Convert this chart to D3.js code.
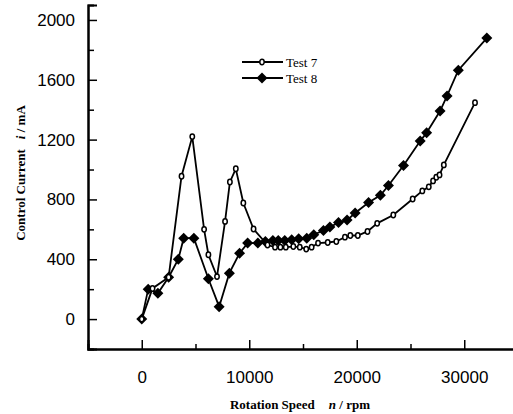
<!DOCTYPE html>
<html>
<head>
<meta charset="utf-8">
<script src="https://cdn.jsdelivr.net/npm/d3@7"></script>
<style>
  body { margin: 0; background: #fff; }
  svg { display: block; }
</style>
</head>
<body>
<div id="chart"></div>
<script>
// Test 7 (open circles)
const speeds7 = [0, 1000, 2500, 3700, 4700, 5800, 6200, 7000, 7750, 8200, 8750, 9450, 10400, 11700,
    12400, 12900, 13400, 14100, 14700, 15300, 15800, 16400, 17300, 18100, 18900, 19400, 20100,
    21000, 21900, 23400, 25200, 26100, 26700, 27100, 27400, 27700, 28100, 31000];
const currents7 = [0, 205, 280, 955, 1220, 600, 430, 284, 653, 917, 1005, 776, 602, 495,
    481, 481, 481, 485, 481, 468, 481, 508, 512, 519, 548, 559, 559,
    586, 640, 696, 803, 857, 884, 924, 948, 964, 1031, 1447];

// Test 8 (filled diamonds)
const speeds8 = [0, 600, 1500, 2500, 3400, 3900, 4850, 6200, 7200, 8150, 9100, 9850, 10800, 11500,
    12200, 12700, 13300, 13950, 14600, 15350, 16000, 16900, 17500, 18300, 19100, 19850, 21100,
    22200, 22950, 24350, 25900, 26500, 27750, 28400, 29450, 32100];
const currents8 = [0, 200, 172, 280, 400, 541, 541, 270, 83, 307, 441, 508, 508, 519,
    525, 525, 525, 530, 537, 541, 564, 593, 615, 646, 662, 709, 779,
    828, 893, 1027, 1190, 1246, 1391, 1492, 1664, 1879];

const xTicks = [0, 10000, 20000, 30000];
const yTicks = [0, 400, 800, 1200, 1600, 2000];
const seriesNames = ["Test 7", "Test 8"];

const width = 513, height = 414;

const svg = d3.select("#chart").append("svg")
    .attr("width", width)
    .attr("height", height);

const x = d3.scaleLinear().domain([-5000, 35000]).range([88, 518]);
const y = d3.scaleLinear().domain([-200, 2100]).range([349, 5]);

// axes: ticks point inward
const xAxis = svg.append("g")
    .attr("transform", `translate(0,${y(-200)})`)
    .call(d3.axisBottom(x).tickValues(xTicks).tickSize(-9).tickPadding(22)
        .tickFormat(d3.format("d")));
svg.append("g")
    .attr("transform", `translate(0,${y(-200)})`)
    .call(d3.axisBottom(x).tickValues([5000, 15000, 25000]).tickSize(-5).tickFormat(""));

const yAxis = svg.append("g")
    .attr("transform", `translate(${x(-5000)},0)`)
    .call(d3.axisLeft(y).tickValues(yTicks).tickSize(-9).tickPadding(13)
        .tickFormat(d3.format("d")));
svg.append("g")
    .attr("transform", `translate(${x(-5000)},0)`)
    .call(d3.axisLeft(y).tickValues([200, 600, 1000, 1400, 1800]).tickSize(-6).tickFormat(""));

svg.selectAll(".domain")
    .attr("stroke", "#000")
    .attr("stroke-width", 2);
svg.selectAll(".tick line")
    .attr("stroke", "#000")
    .attr("stroke-width", 1.5);
svg.selectAll(".tick text")
    .attr("font-family", "'Liberation Sans', Arial, sans-serif")
    .attr("font-size", 17)
    .attr("fill", "#000");
xAxis.selectAll(".tick text").attr("dy", "0.71em");

// axis titles
const xTitle = svg.append("text")
    .attr("x", 300)
    .attr("y", 409)
    .attr("text-anchor", "middle")
    .attr("font-family", "'Liberation Serif', 'Times New Roman', serif")
    .attr("font-weight", "bold")
    .attr("font-size", 13);
xTitle.append("tspan").text("Rotation Speed");
xTitle.append("tspan").attr("dx", 14).attr("font-style", "italic").text("n");
xTitle.append("tspan").text(" / rpm");

const yTitle = svg.append("text")
    .attr("transform", "translate(25,173) rotate(-90)")
    .attr("text-anchor", "middle")
    .attr("font-family", "'Liberation Serif', 'Times New Roman', serif")
    .attr("font-weight", "bold")
    .attr("font-size", 13);
yTitle.append("tspan").text("Control Current");
yTitle.append("tspan").attr("dx", 10).attr("font-style", "italic").text("i");
yTitle.append("tspan").text(" / mA");

const data7 = speeds7.map((s, i) => ({speed: s, current: currents7[i]}));
const data8 = speeds8.map((s, i) => ({speed: s, current: currents8[i]}));

const line = d3.line()
    .x(d => x(d.speed))
    .y(d => y(d.current));

const diamond = r => `M0,${-r}L${r},0L0,${r}L${-r},0Z`;

// Test 8
svg.append("path")
    .datum(data8)
    .attr("fill", "none")
    .attr("stroke", "#000")
    .attr("stroke-width", 1.8)
    .attr("d", line);
svg.append("g").selectAll("path")
    .data(data8)
    .join("path")
    .attr("transform", d => `translate(${x(d.speed)},${y(d.current)})`)
    .attr("d", diamond(5.5))
    .attr("fill", "#000");

// Test 7
svg.append("path")
    .datum(data7)
    .attr("fill", "none")
    .attr("stroke", "#000")
    .attr("stroke-width", 1.8)
    .attr("d", line);
svg.append("g").selectAll("ellipse")
    .data(data7)
    .join("ellipse")
    .attr("cx", d => x(d.speed))
    .attr("cy", d => y(d.current))
    .attr("rx", 2.2)
    .attr("ry", 2.7)
    .attr("fill", "#fff")
    .attr("stroke", "#000")
    .attr("stroke-width", 1.5);

// legend
const legend = svg.append("g").attr("transform", "translate(242,0)");
const legendY = [62, 78];
seriesNames.forEach((name, i) => {
    const g = legend.append("g").attr("transform", `translate(0,${legendY[i]})`);
    g.append("line")
        .attr("x1", 0).attr("x2", 41)
        .attr("stroke", "#000")
        .attr("stroke-width", 1.8);
    if (i === 0) {
        g.append("ellipse")
            .attr("cx", 20).attr("rx", 2.2).attr("ry", 2.7)
            .attr("fill", "#fff").attr("stroke", "#000").attr("stroke-width", 1.5);
    } else {
        g.append("path")
            .attr("transform", "translate(20,0)")
            .attr("d", diamond(5.5))
            .attr("fill", "#000");
    }
    g.append("text")
        .attr("x", 44)
        .attr("dy", "0.35em")
        .attr("font-family", "'Liberation Serif', 'Times New Roman', serif")
        .attr("font-size", 13)
        .text(name);
});
</script>
</body>
</html>
